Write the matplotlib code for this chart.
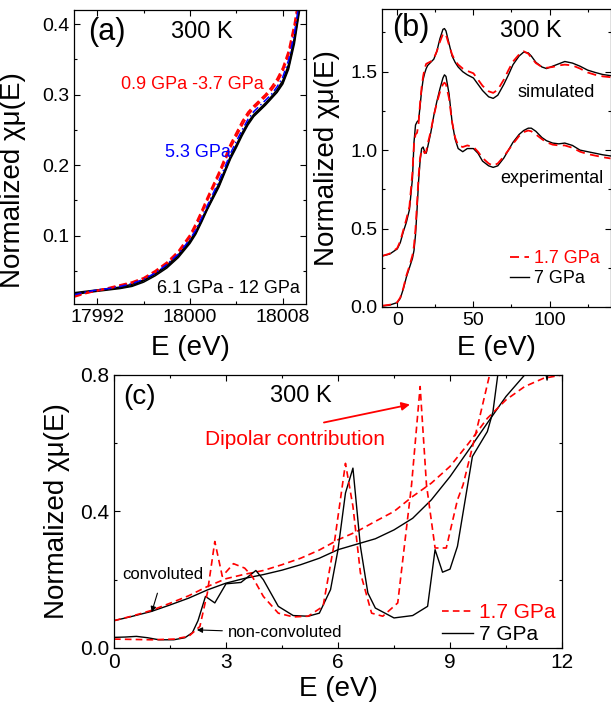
import matplotlib
matplotlib.use("Agg")
import matplotlib.pyplot as plt
from matplotlib.ticker import MultipleLocator, FormatStrFormatter

plt.rcParams['font.family'] = ['Liberation Sans', 'DejaVu Sans']

# ---------------- panel (a): XANES edge, 300 K ----------------
e_a = [17990, 17991, 17992, 17993, 17994, 17995, 17996, 17997, 17998, 17999,
       18000, 18000.5, 18001, 18001.5, 18002, 18002.5, 18003, 18003.5, 18004, 18004.5,
       18005, 18005.5, 18006, 18006.5, 18007, 18007.5, 18008, 18008.5, 18009, 18009.5]
# 0.9 - 3.7 GPa (red dashed)
mu_red1 = [0.013, 0.018, 0.022, 0.026, 0.030, 0.034, 0.040, 0.050, 0.062, 0.078,
           0.101, 0.117, 0.135, 0.154, 0.172, 0.190, 0.210, 0.230, 0.246, 0.262,
           0.275, 0.284, 0.292, 0.300, 0.310, 0.322, 0.338, 0.362, 0.400, 0.450]
mu_red2 = [0.015, 0.019, 0.022, 0.025, 0.029, 0.033, 0.039, 0.048, 0.060, 0.076,
           0.098, 0.113, 0.131, 0.150, 0.168, 0.186, 0.205, 0.225, 0.241, 0.257,
           0.271, 0.281, 0.289, 0.297, 0.306, 0.317, 0.333, 0.357, 0.395, 0.445]
# 5.3 GPa (blue dash-dot)
mu_blue = [0.016, 0.020, 0.023, 0.025, 0.028, 0.032, 0.038, 0.047, 0.059, 0.074,
           0.095, 0.108, 0.125, 0.143, 0.160, 0.178, 0.197, 0.217, 0.234, 0.250,
           0.265, 0.276, 0.284, 0.292, 0.300, 0.311, 0.325, 0.349, 0.387, 0.440]
# 6.1 - 12 GPa (black)
mu_blk1 = [0.019, 0.021, 0.023, 0.025, 0.027, 0.031, 0.037, 0.046, 0.058, 0.073,
           0.093, 0.106, 0.123, 0.140, 0.157, 0.174, 0.193, 0.213, 0.229, 0.246,
           0.261, 0.272, 0.280, 0.288, 0.297, 0.307, 0.320, 0.343, 0.381, 0.433]
mu_blk2 = [0.017, 0.020, 0.022, 0.024, 0.026, 0.029, 0.036, 0.045, 0.056, 0.071,
           0.091, 0.104, 0.121, 0.138, 0.155, 0.171, 0.191, 0.211, 0.227, 0.244,
           0.259, 0.270, 0.278, 0.286, 0.295, 0.304, 0.317, 0.339, 0.377, 0.429]
mu_blk3 = [0.016, 0.019, 0.021, 0.023, 0.025, 0.028, 0.034, 0.043, 0.054, 0.069,
           0.089, 0.102, 0.119, 0.137, 0.153, 0.169, 0.189, 0.209, 0.225, 0.242,
           0.257, 0.269, 0.277, 0.285, 0.294, 0.303, 0.315, 0.336, 0.372, 0.425]

# ---------------- panel (b): experimental vs simulated ----------------
e_b = [-10, -5, 0, 2, 4, 6, 8, 10, 11, 12, 13, 14, 15, 16, 17, 18, 19, 20, 22, 24,
       26, 28, 30, 31, 32, 34, 36, 38, 40, 43, 46, 50, 53, 56, 60, 63, 66, 70, 73, 76,
       80, 83, 86, 88, 91, 95, 98, 102, 106, 110, 115, 120, 125, 130, 135, 140]
exp_7 = [0.006, 0.012, 0.028, 0.055, 0.115, 0.19, 0.25, 0.31, 0.36, 0.46,
         0.62, 0.80, 0.93, 1.01, 1.02, 0.99, 0.98, 1.02, 1.11, 1.22,
         1.31, 1.39, 1.46, 1.48, 1.47, 1.36, 1.18, 1.07, 1.01, 0.99,
         1.01, 1.01, 0.98, 0.93, 0.90, 0.89, 0.90, 0.95, 1.00, 1.05,
         1.10, 1.125, 1.14, 1.14, 1.12, 1.08, 1.06, 1.045, 1.04, 1.045,
         1.03, 1.00, 0.99, 0.98, 0.97, 0.963]
exp_17 = [0.008, 0.014, 0.03, 0.06, 0.12, 0.20, 0.26, 0.33, 0.39, 0.50,
          0.66, 0.83, 0.95, 1.00, 1.00, 0.98, 0.99, 1.04, 1.12, 1.22,
          1.30, 1.37, 1.42, 1.43, 1.42, 1.33, 1.18, 1.08, 1.03, 1.02,
          1.03, 1.02, 0.99, 0.95, 0.915, 0.90, 0.915, 0.96, 1.00, 1.04,
          1.09, 1.115, 1.125, 1.12, 1.10, 1.07, 1.05, 1.035, 1.03, 1.03,
          1.015, 0.99, 0.975, 0.965, 0.955, 0.947]
sim_7 = [0.325, 0.337, 0.37, 0.41, 0.48, 0.54, 0.62, 0.82, 1.05, 1.16,
         1.18, 1.19, 1.28, 1.38, 1.45, 1.49, 1.52, 1.54, 1.56, 1.58,
         1.63, 1.71, 1.77, 1.775, 1.76, 1.68, 1.60, 1.56, 1.53, 1.50,
         1.48, 1.46, 1.42, 1.38, 1.34, 1.33, 1.35, 1.42, 1.48, 1.545,
         1.60, 1.625, 1.62, 1.60, 1.56, 1.53, 1.52, 1.535, 1.55, 1.565,
         1.555, 1.535, 1.51, 1.495, 1.482, 1.475]
sim_17 = [0.325, 0.34, 0.375, 0.42, 0.49, 0.56, 0.64, 0.86, 1.04, 1.10,
          1.11, 1.17, 1.30, 1.40, 1.47, 1.52, 1.55, 1.555, 1.565, 1.585,
          1.63, 1.69, 1.74, 1.745, 1.735, 1.67, 1.61, 1.57, 1.545, 1.52,
          1.505, 1.49, 1.45, 1.41, 1.375, 1.365, 1.385, 1.45, 1.51, 1.565,
          1.61, 1.63, 1.615, 1.59, 1.555, 1.53, 1.525, 1.53, 1.54, 1.545,
          1.54, 1.52, 1.495, 1.48, 1.47, 1.465]

# ---------------- panel (c): pre-edge, convoluted / non-convoluted ----------------
e_conv = [0, 0.5, 1, 1.5, 2, 2.5, 3, 3.5, 4, 4.5, 5, 5.5, 6, 6.5, 7, 7.5, 8, 8.5,
          9, 9.5, 10, 10.5, 11, 11.5, 12]
conv_7 = [0.080, 0.093, 0.107, 0.126, 0.146, 0.170, 0.190, 0.204, 0.215, 0.228,
          0.244, 0.263, 0.288, 0.304, 0.320, 0.346, 0.380, 0.434, 0.502, 0.580,
          0.659, 0.737, 0.800, 0.850, 0.900]
conv_17 = [0.080, 0.094, 0.110, 0.131, 0.153, 0.180, 0.203, 0.216, 0.227, 0.244,
           0.263, 0.287, 0.317, 0.341, 0.371, 0.400, 0.444, 0.483, 0.532, 0.600,
           0.673, 0.727, 0.766, 0.790, 0.800]
e_raw_7 = [0, 0.3, 0.6, 0.9, 1.2, 1.6, 1.9, 2.1, 2.25, 2.45, 2.7, 3.0, 3.4, 3.8, 4.0,
           4.4, 4.8, 5.2, 5.5, 5.8, 6.0, 6.2, 6.4, 6.6, 6.8, 7.0, 7.5, 8.0, 8.4, 8.6,
           8.8, 9.0, 9.2, 9.6, 10.0, 10.15, 10.28, 10.6, 10.9, 11.4, 11.6, 11.75, 12.0]
raw_7 = [0.031, 0.032, 0.034, 0.030, 0.024, 0.024, 0.030, 0.045, 0.080, 0.151, 0.132,
         0.188, 0.192, 0.227, 0.200, 0.122, 0.095, 0.093, 0.102, 0.171, 0.288, 0.454,
         0.527, 0.298, 0.161, 0.117, 0.088, 0.095, 0.122, 0.288, 0.222, 0.231, 0.298,
         0.561, 0.634, 0.692, 0.800, 1.000, 1.100, 0.900, 0.785, 0.900, 1.000]
e_raw_17 = [0, 0.5, 1.0, 1.6, 2.0, 2.3, 2.5, 2.7, 2.9, 3.2, 3.5, 3.7, 4.0, 4.4, 4.8,
            5.2, 5.6, 5.9, 6.2, 6.4, 6.6, 6.9, 7.2, 7.6, 7.97, 8.2, 8.37, 8.6, 8.9,
            9.2, 9.35, 9.57, 9.79, 10.06, 10.3]
raw_17 = [0.026, 0.025, 0.024, 0.026, 0.034, 0.063, 0.161, 0.312, 0.210, 0.247, 0.234,
          0.210, 0.151, 0.102, 0.091, 0.093, 0.122, 0.307, 0.541, 0.415, 0.220, 0.102,
          0.093, 0.132, 0.478, 0.766, 0.478, 0.293, 0.293, 0.434, 0.478, 0.575, 0.674,
          0.800, 1.000]

RED = '#ff0000'
BLUE = '#0000ff'
YLAB = 'Normalized χμ(E)'


def style_axes(ax):
    ax.tick_params(which='both', direction='in', top=True, right=True,
                   labelsize=14, width=0.8)
    ax.tick_params(which='major', length=4)
    ax.tick_params(which='minor', length=2.5)
    for s in ax.spines.values():
        s.set_linewidth(0.9)


fig = plt.figure(figsize=(6.11, 7.06), dpi=100)

# (a)
ax = fig.add_axes([0.1211, 0.5694, 0.3797, 0.4164])
for mu in (mu_blk1, mu_blk2, mu_blk3):
    ax.plot(e_a, mu, color='black', lw=1.1)
for mu in (mu_red1, mu_red2):
    ax.plot(e_a, mu, color=RED, lw=1.4, ls=(0, (4, 2)))
ax.plot(e_a, mu_blue, color=BLUE, lw=1.1, ls=(0, (5, 2, 1, 2)))
ax.set_xlim(17990, 18010)
ax.set_ylim(0.003, 0.42)
ax.xaxis.set_major_locator(MultipleLocator(8))
ax.xaxis.set_minor_locator(MultipleLocator(4))
ax.xaxis.set_major_formatter(FormatStrFormatter('%d'))
ax.yaxis.set_major_locator(MultipleLocator(0.1))
ax.yaxis.set_minor_locator(MultipleLocator(0.05))
ax.yaxis.set_major_formatter(FormatStrFormatter('%.1f'))
style_axes(ax)
ax.set_xlabel('E (eV)', fontsize=20)
ax.set_ylabel(YLAB, fontsize=20)
ax.xaxis.set_label_coords(0.5, -0.105)
ax.yaxis.set_label_coords(-0.205, 0.42)
ax.text(0.142, 0.925, '(a)', transform=ax.transAxes, fontsize=22, ha='center', va='center')
ax.text(0.552, 0.925, '300 K', transform=ax.transAxes, fontsize=17, ha='center', va='center')
ax.text(0.509, 0.748, '0.9 GPa -3.7 GPa', transform=ax.transAxes, fontsize=13,
        color=RED, ha='center', va='center')
ax.text(0.534, 0.517, '5.3 GPa', transform=ax.transAxes, fontsize=13,
        color=BLUE, ha='center', va='center')
ax.text(0.664, 0.054, '6.1 GPa - 12 GPa', transform=ax.transAxes, fontsize=13,
        ha='center', va='center')

# (b)
ax = fig.add_axes([0.6252, 0.5652, 0.3740, 0.4221])
ax.plot(e_b, sim_7, color='black', lw=1.0)
ax.plot(e_b, sim_17, color=RED, lw=1.3, ls=(0, (5, 3)))
l7, = ax.plot(e_b, exp_7, color='black', lw=1.0, label='7 GPa')
l17, = ax.plot(e_b, exp_17, color=RED, lw=1.3, ls=(0, (5, 3)), label='1.7 GPa')
ax.set_xlim(-10, 140)
ax.set_ylim(0, 1.9)
ax.xaxis.set_major_locator(MultipleLocator(50))
ax.xaxis.set_minor_locator(MultipleLocator(25))
ax.yaxis.set_major_locator(MultipleLocator(0.5))
ax.yaxis.set_minor_locator(MultipleLocator(0.25))
ax.yaxis.set_major_formatter(FormatStrFormatter('%.1f'))
style_axes(ax)
ax.set_xlabel('E (eV)', fontsize=20)
ax.set_ylabel(YLAB, fontsize=20)
ax.xaxis.set_label_coords(0.5, -0.094)
ax.yaxis.set_label_coords(-0.183, 0.5)
ax.text(0.127, 0.936, '(b)', transform=ax.transAxes, fontsize=22, ha='center', va='center')
ax.text(0.651, 0.926, '300 K', transform=ax.transAxes, fontsize=17, ha='center', va='center')
ax.text(0.764, 0.721, 'simulated', transform=ax.transAxes, fontsize=13, ha='center', va='center')
ax.text(0.742, 0.430, 'experimental', transform=ax.transAxes, fontsize=13, ha='center', va='center')
leg = ax.legend([l17, l7], ['1.7 GPa', '7 GPa'], loc='lower right', frameon=False,
                fontsize=13, handlelength=1.0, handletextpad=0.3, labelspacing=0.15,
                bbox_to_anchor=(1.0, 0.03), borderaxespad=0.2)
leg.get_texts()[0].set_color(RED)

# (c)
ax = fig.add_axes([0.1866, 0.0822, 0.7332, 0.3867])
ax.plot(e_conv, conv_7, color='black', lw=1.0)
ax.plot(e_conv, conv_17, color=RED, lw=1.2, ls=(0, (4, 2.5)))
c7, = ax.plot(e_raw_7, raw_7, color='black', lw=1.0)
c17, = ax.plot(e_raw_17, raw_17, color=RED, lw=1.2, ls=(0, (4, 2.5)))
ax.set_xlim(0, 12)
ax.set_ylim(0, 0.8)
ax.xaxis.set_major_locator(MultipleLocator(3))
ax.xaxis.set_minor_locator(MultipleLocator(1.5))
ax.yaxis.set_major_locator(MultipleLocator(0.4))
ax.yaxis.set_minor_locator(MultipleLocator(0.2))
ax.yaxis.set_major_formatter(FormatStrFormatter('%.1f'))
style_axes(ax)
ax.tick_params(labelsize=15)
ax.set_xlabel('E (eV)', fontsize=20)
ax.set_ylabel(YLAB, fontsize=20)
ax.xaxis.set_label_coords(0.5, -0.103)
ax.yaxis.set_label_coords(-0.098, 0.5)
ax.text(0.056, 0.919, '(c)', transform=ax.transAxes, fontsize=20, ha='center', va='center')
ax.text(0.417, 0.923, '300 K', transform=ax.transAxes, fontsize=17, ha='center', va='center')
ax.text(0.404, 0.762, 'Dipolar contribution', transform=ax.transAxes, fontsize=15,
        color=RED, ha='center', va='center')
ax.annotate('', xy=(8.0, 0.715), xytext=(5.55, 0.659),
            arrowprops=dict(arrowstyle='-|>', color=RED, lw=1.3, mutation_scale=12))
ax.annotate('convoluted', xy=(1.01, 0.105), xytext=(1.31, 0.214), fontsize=12,
            ha='center', va='center',
            arrowprops=dict(arrowstyle='-|>', color='black', lw=0.8, mutation_scale=8,
                            shrinkA=6, shrinkB=0))
ax.annotate('non-convoluted', xy=(2.22, 0.053), xytext=(3.05, 0.044), fontsize=12,
            ha='left', va='center',
            arrowprops=dict(arrowstyle='-|>', color='black', lw=0.8, mutation_scale=8,
                            shrinkA=2, shrinkB=0))
leg = ax.legend([c17, c7], ['1.7 GPa', '7 GPa'], loc='lower right', frameon=False,
                fontsize=15, handlelength=1.5, handletextpad=0.3, labelspacing=0.15,
                bbox_to_anchor=(1.0, -0.01), borderaxespad=0.1, borderpad=0.2)
leg.get_texts()[0].set_color(RED)

fig.savefig('out.png', dpi=100)
